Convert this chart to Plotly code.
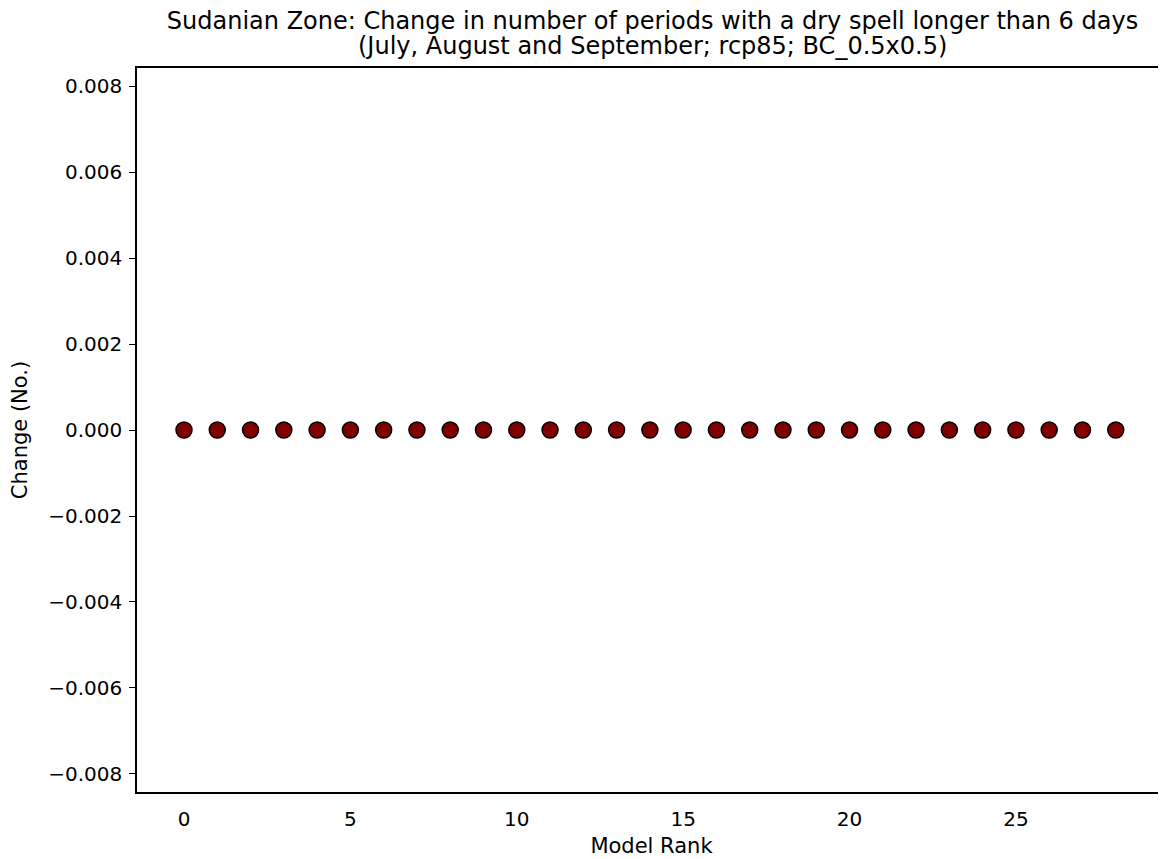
import plotly.graph_objects as go

model_rank = list(range(29))
change = [0.0] * 29

ytick_vals = [-0.008, -0.006, -0.004, -0.002, 0.0, 0.002, 0.004, 0.006, 0.008]
ytick_text = ["\u22120.008", "\u22120.006", "\u22120.004", "\u22120.002", "0.000",
              "0.002", "0.004", "0.006", "0.008"]
xtick_vals = [0, 5, 10, 15, 20, 25]

title_line1 = "Sudanian Zone: Change in number of periods with a dry spell longer than 6 days"
title_line2 = "(July, August and September; rcp85; BC_0.5x0.5)"

font_family = "DejaVu Sans"

fig = go.Figure()
fig.add_trace(go.Scatter(
    x=model_rank, y=change, mode="markers",
    marker=dict(size=16, color="#800000", line=dict(color="black", width=1.5)),
    showlegend=False,
))

# page body has an 8px margin, so the figure is shifted by 8px
W, H = 1158, 851
fig.update_layout(
    width=W, height=H,
    margin=dict(l=129, r=0, t=60, b=67),
    paper_bgcolor="white", plot_bgcolor="white",
    font=dict(family=font_family, color="black", size=20),
    title=dict(text=title_line1, x=644.5 / W, xanchor="center",
               yref="container", y=1 - 12.5 / H, yanchor="middle",
               font=dict(size=24, family=font_family, color="black")),
    xaxis=dict(range=[-1.412, 29.51], tickvals=xtick_vals, ticks="", showgrid=False,
               zeroline=False, showline=True, linecolor="black", linewidth=1.5,
               mirror=True, tickfont=dict(size=20), ticklabelstandoff=8,
               title=dict(text="Model Rank", font=dict(size=21), standoff=9)),
    yaxis=dict(range=[-0.008419, 0.008419], tickvals=ytick_vals, ticktext=ytick_text,
               ticks="outside", ticklen=6, tickwidth=1.2, tickcolor="black",
               showgrid=False, zeroline=False, showline=True, linecolor="black",
               linewidth=1.5, mirror=False, tickfont=dict(size=20), ticklabelstandoff=3,
               title=dict(text="Change (No.)", font=dict(size=21), standoff=26)),
)
fig.add_annotation(text=title_line2, xref="paper", yref="paper",
                   x=(644.5 - 129) / (W - 129), y=1 + (60 - 37.5) / (H - 60 - 67),
                   xanchor="center", yanchor="middle", showarrow=False,
                   font=dict(size=24, family=font_family, color="black"))

fig.write_html("out.html")
